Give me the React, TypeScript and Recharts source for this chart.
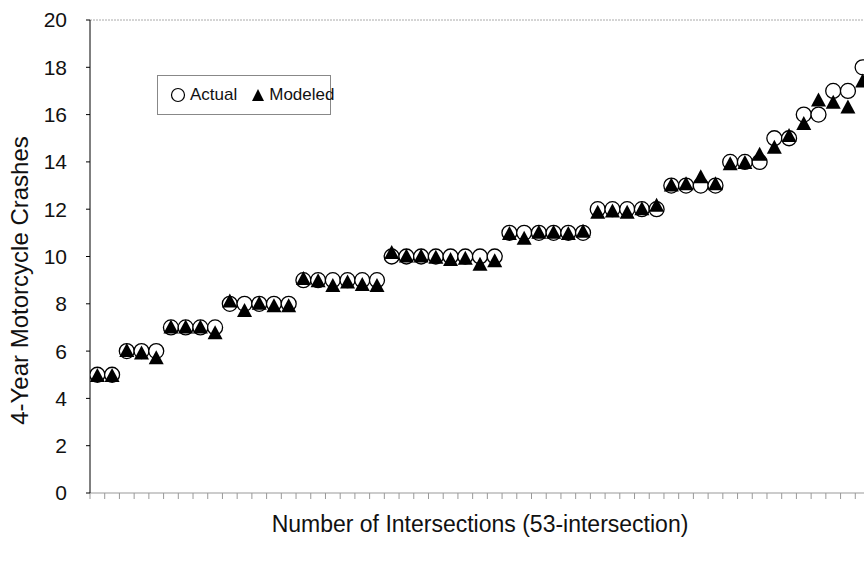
import { ScatterChart, Scatter, XAxis, YAxis, Legend, ReferenceLine } from "recharts";

const intersections = Array.from({ length: 53 }, (_, i) => i + 1);

const actual = [
    5, 5, 6, 6, 6, 7, 7, 7, 7, 8, 8, 8, 8, 8, 9, 9, 9, 9, 9, 9, 10, 10, 10, 10, 10, 10, 10, 10,
    11, 11, 11, 11, 11, 11, 12, 12, 12, 12, 12, 13, 13, 13, 13, 14, 14, 14, 15, 15, 16, 16, 17,
    17, 18,
];

const modeled = [
    4.95, 4.95, 6.0, 5.9, 5.7, 7.0, 7.0, 7.0, 6.75, 8.1, 7.7, 8.0, 7.9, 7.9, 9.05, 8.95, 8.75,
    8.9, 8.8, 8.75, 10.15, 10.0, 10.0, 9.95, 9.85, 9.9, 9.65, 9.8, 10.95, 10.75, 11.0, 11.0,
    10.95, 11.05, 11.85, 11.9, 11.85, 12.0, 12.15, 13.0, 13.05, 13.35, 13.05, 13.9, 13.95, 14.3,
    14.6, 15.1, 15.6, 16.6, 16.5, 16.3, 17.4,
];

const yTicks = [0, 2, 4, 6, 8, 10, 12, 14, 16, 18, 20];
const xTicks = [...intersections.map((n) => n - 0.5), intersections.length + 0.5];

const actualData = intersections.map((n, i) => ({ x: n, y: actual[i] }));
const modeledData = intersections.map((n, i) => ({ x: n, y: modeled[i] }));

const font = "'Liberation Sans', Arial, sans-serif";

const CircleShape = (props: any) => (
    <circle cx={props.cx} cy={props.cy} r={7.5} fill="#fff" stroke="#000" strokeWidth={1.3} />
);

const TriangleShape = (props: any) => {
    const { cx, cy } = props;
    return <polygon points={`${cx},${cy - 8} ${cx + 7.5},${cy + 6} ${cx - 7.5},${cy + 6}`} fill="#000" />;
};

const LegendBox = () => (
    <div
        style={{
            boxSizing: "border-box",
            border: "1px solid #888",
            background: "#fff",
            display: "flex",
            alignItems: "center",
            padding: "9px 0 9px 12px",
            fontFamily: font,
            fontSize: 17,
            color: "#111",
            width: 174,
            lineHeight: "20px",
        }}
    >
        <svg width={16} height={16} style={{ display: "block", marginRight: 4, flexShrink: 0 }}>
            <circle cx={8} cy={8} r={6.5} fill="#fff" stroke="#000" strokeWidth={1.2} />
        </svg>
        <span style={{ marginRight: 14 }}>Actual</span>
        <svg width={14} height={14} style={{ display: "block", marginRight: 4, flexShrink: 0 }}>
            <polygon points="7,1 13,13 1,13" fill="#000" />
        </svg>
        <span>Modeled</span>
    </div>
);

const XTitle = (props: any) => {
    const { viewBox } = props;
    return (
        <text
            x={viewBox.x + viewBox.width / 2}
            y={viewBox.y + 39}
            textAnchor="middle"
            style={{ fontFamily: font, fontSize: 23, fill: "#111" }}
        >
            Number of Intersections (53-intersection)
        </text>
    );
};

const YTitle = (props: any) => {
    const { viewBox } = props;
    const cx = 28;
    const cy = viewBox.y + viewBox.height / 2 + 24;
    return (
        <text
            x={cx}
            y={cy}
            transform={`rotate(-90, ${cx}, ${cy})`}
            textAnchor="middle"
            style={{ fontFamily: font, fontSize: 24, fill: "#111" }}
        >
            4-Year Motorcycle Crashes
        </text>
    );
};

export default function App() {
    return (
        <div style={{ position: "absolute", left: 0, top: 0, width: 864, height: 578, overflow: "hidden", background: "#fff" }}>
            <ScatterChart width={880} height={578} margin={{ top: 20, right: 10, left: 0, bottom: 0 }}>
                <XAxis
                    type="number"
                    dataKey="x"
                    domain={[0.5, 53.5]}
                    ticks={xTicks}
                    tickFormatter={() => ""}
                    tickSize={6}
                    height={45}
                    stroke="#999"
                    allowDataOverflow
                    label={<XTitle />}
                />
                <YAxis
                    type="number"
                    dataKey="y"
                    domain={[0, 20]}
                    ticks={yTicks}
                    width={90}
                    tickSize={4}
                    tickMargin={19}
                    stroke="#000"
                    tick={{ fontFamily: font, fontSize: 21, fill: "#111" }}
                    label={<YTitle />}
                />
                <ReferenceLine y={20} stroke="#aaa" strokeDasharray="2 1" />
                <Legend
                    content={<LegendBox />}
                    wrapperStyle={{ position: "absolute", left: 157, top: 75, width: "auto" }}
                />
                <Scatter name="Actual" data={actualData} shape={<CircleShape />} isAnimationActive={false} />
                <Scatter name="Modeled" data={modeledData} shape={<TriangleShape />} isAnimationActive={false} />
            </ScatterChart>
        </div>
    );
}
